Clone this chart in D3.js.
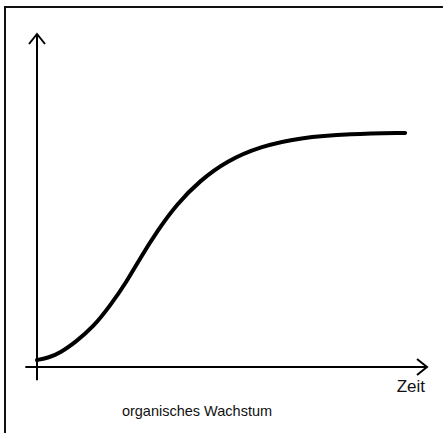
<!DOCTYPE html>
<html>
<head>
<meta charset="utf-8">
<script src="https://cdn.jsdelivr.net/npm/d3@7"></script>
<style>
    body { margin: 0; background: #fff; }
    text { font-family: "Liberation Sans", Arial, sans-serif; fill: #111; }
</style>
</head>
<body>
<div id="graph"></div>
<script>
// curve (0..100 on both axes)
var timeValues = [0, 3, 6, 10, 14.4, 18.7, 23.1, 26.4, 30.8, 35.9, 41.8, 48.7, 57.2, 67.4, 80.3, 94.4];
var growthValues = [2.1, 2.8, 4.3, 7.6, 12.0, 18.3, 25.8, 32.6, 40.8, 49.0, 56.0, 61.9, 66.2, 68.9, 70.0, 70.3];
var xLabel = 'Zeit';
var caption = 'organisches Wachstum';

window.onload = start;

function start() {
    var width = 443;
    var height = 433;

    var svg = d3
        .select('#graph')
        .append('svg')
        .attr('width', width)
        .attr('height', height);

    // frame (cut off at right and bottom like the scan)
    svg.append('rect')
        .attr('x', 5)
        .attr('y', 7)
        .attr('width', width + 10)
        .attr('height', height + 10)
        .attr('fill', 'none')
        .attr('stroke', '#111')
        .attr('stroke-width', 2);

    var xScale = d3.scaleLinear().domain([0, 100]).range([37, 427]);
    var yScale = d3.scaleLinear().domain([0, 100]).range([367, 34]);

    var axes = svg.append('g')
        .attr('fill', 'none')
        .attr('stroke', '#000')
        .attr('stroke-width', 2);

    // x axis with open arrow
    var x0 = xScale(-3), x1 = xScale(100), y0 = yScale(0);
    axes.append('path')
        .attr('d', 'M' + x0 + ',' + y0 + 'H' + x1 +
            'M' + (x1 - 10) + ',' + (y0 - 8) + 'L' + x1 + ',' + y0 + 'L' + (x1 - 10) + ',' + (y0 + 8));

    // y axis with open arrow
    var yb = yScale(-4), yt = yScale(100), xa = xScale(0);
    axes.append('path')
        .attr('d', 'M' + xa + ',' + yb + 'V' + yt +
            'M' + (xa - 8) + ',' + (yt + 10) + 'L' + xa + ',' + yt + 'L' + (xa + 8) + ',' + (yt + 10));

    var line = d3.line()
        .x(function(d, i) { return xScale(timeValues[i]); })
        .y(function(d, i) { return yScale(growthValues[i]); })
        .curve(d3.curveBasis);

    svg.append('path')
        .datum(timeValues)
        .attr('d', line)
        .attr('fill', 'none')
        .attr('stroke', '#000')
        .attr('stroke-width', 4)
        .attr('stroke-linecap', 'round');

    svg.append('text')
        .attr('x', 425)
        .attr('y', 392)
        .attr('text-anchor', 'end')
        .attr('font-size', 17)
        .text(xLabel);

    svg.append('text')
        .attr('x', 197)
        .attr('y', 416)
        .attr('text-anchor', 'middle')
        .attr('font-size', 14.5)
        .text(caption);
}
</script>
</body>
</html>
